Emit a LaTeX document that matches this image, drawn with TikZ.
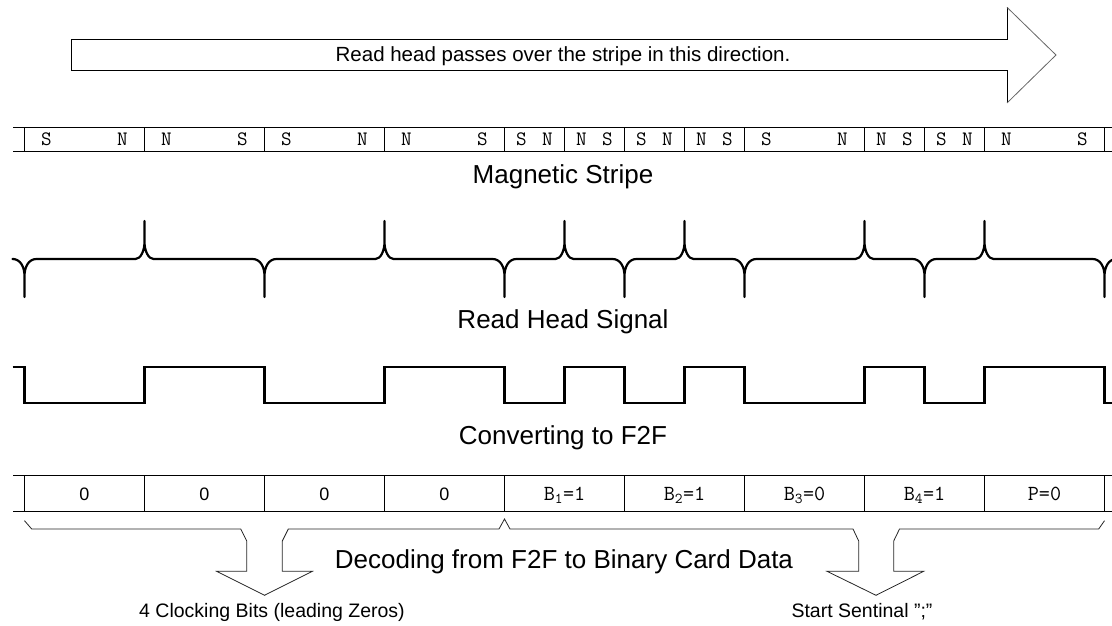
\documentclass[tikz,border=0pt]{standalone}
\usepackage{fontspec}
\setmainfont{Liberation Sans}
\usetikzlibrary{positioning}

\begin{document}
\begin{tikzpicture}[
x=1pt, y=-1pt,
rule/.style={draw, line width=1pt},
slant/.style={draw=black!60, line width=0.8pt},
wave/.style={draw, line width=2.2pt},
callout/.style={draw=black!85, line width=0.8pt, line join=miter},
banner/.style={anchor=base, inner sep=0pt, font=\fontsize{20.5}{24}\selectfont},
caption/.style={anchor=base, inner sep=0pt, font=\fontsize{26}{30}\selectfont},
note/.style={anchor=base, inner sep=0pt, font=\fontsize{19.5}{23}\selectfont},
pole/.style={anchor=base, inner sep=0pt, font=\ttfamily\fontsize{20.5}{24}\selectfont},
bit/.style={anchor=base, inner sep=0pt, font=\fontsize{18}{22}\selectfont},
bitcode/.style={anchor=base, inner sep=0pt, font=\ttfamily\fontsize{21.5}{25}\selectfont}
]
\useasboundingbox (0,0) rectangle (1112,626);

\draw[rule] (1007,7.3) -- (1007,39.3) -- (71,39.3) -- (71,71) -- (1007,71) -- (1007,103);
\draw[slant] (1007,7.3) -- (1056,55) -- (1007,103);
\node[banner] (direction) at (563,62) {Read head passes over the stripe in this direction.};

\draw[rule] (13,127.5) -- (1112,127.5) (13,151) -- (1112,151);
\foreach \k in {0,2,4,6,8,9,10,11,12,14,15,16,18}
  \draw[rule] (24.5+60*\k,127.5) -- (24.5+60*\k,151);
\foreach \p/\x [count=\i] in {S/46.5,N/122.5,N/166.5,S/242.5,S/286.5,N/362.5,N/406.5,S/482.5,
  S/521.5,N/547.5,N/581.5,S/607.5,S/641.5,N/667.5,N/701.5,S/727.5,S/766.5,N/842.5,
  N/881.5,S/907.5,S/941.5,N/967.5,N/1006.5,S/1082.5}
  \node[pole] (pole-\i) at (\x,145.7) {\p};
\node[caption] (stripe label) at (563,183) {Magnetic Stripe};

\draw[wave, line join=round] (14,259)
  \foreach \x/\s in {24.5/1,144.5/-1,264.5/1,384.5/-1,504.5/1,564.5/-1,624.5/1,684.5/-1,744.5/1,864.5/-1,924.5/1,984.5/-1,1104.5/1}
  { -- (\x-10.5-1.5*\s,259) .. controls (\x-4,259) and (\x,259+8*\s) .. (\x,259+18*\s-\s)
    -- (\x,259+38*\s) -- (\x,259+18*\s-\s) .. controls (\x,259+8*\s) and (\x+4,259) .. (\x+10.5+1.5*\s,259) };
\node[caption] (signal label) at (563,328) {Read Head Signal};

\draw[wave, line join=miter] (12.5,367)
  \foreach \x/\a/\b in {24.5/367/403,144.5/403/367,264.5/367/403,384.5/403/367,504.5/367/403,564.5/403/367,
    624.5/367/403,684.5/403/367,744.5/367/403,864.5/403/367,924.5/367/403,984.5/403/367,1104.5/367/403}
  { -- (\x,\a) -- (\x,\b) } -- (1112,403);
\node[caption] (f2f label) at (563,444) {Converting to F2F};

\draw[rule] (13,475.3) -- (1112,475.3) (13,511) -- (1112,511);
\foreach \k in {0,...,9}
  \draw[rule] (24.5+120*\k,475.3) -- (24.5+120*\k,511);
\foreach \i in {1,...,4}
  \node[bit] (zero-\i) at (120*\i-35.5,500) {0};
\foreach \t/\x [count=\i] in {B\textsubscript{1}=1/564.5,B\textsubscript{2}=1/684.5,B\textsubscript{3}=0/804.5,
  B\textsubscript{4}=1/924.5,P=0/1044.5}
  \node[bitcode] (code-\i) at (\x,500) {\t};

\draw[callout] (24.5,520.7) -- (31.7,529) -- (240.7,529) -- (246.7,541) -- (246.7,571.3) -- (216.7,571.3)
  -- (264.5,595.3) coordinate (clock tip) -- (312.3,571.3) -- (282.3,571.3) -- (282.3,541) -- (288.3,529)
  -- (499,529) -- (504.5,519) -- (510,529) -- (853,529) -- (858.7,541) -- (858.7,571.3) -- (827,571.3)
  -- (876,595.3) coordinate (sentinel tip) -- (923.7,571.3) -- (893.7,571.3) -- (893.7,541) -- (899.5,529)
  -- (1098.7,529) -- (1104.5,520.7);
\node[caption] (decode label) at (564,568) {Decoding from F2F to Binary Card Data};
\node[note] (clock note) at (272,617) {4 Clocking Bits (leading Zeros)};
\node[note] (sentinel note) at (862,617) {Start Sentinal ";"};
\end{tikzpicture}
\end{document}
